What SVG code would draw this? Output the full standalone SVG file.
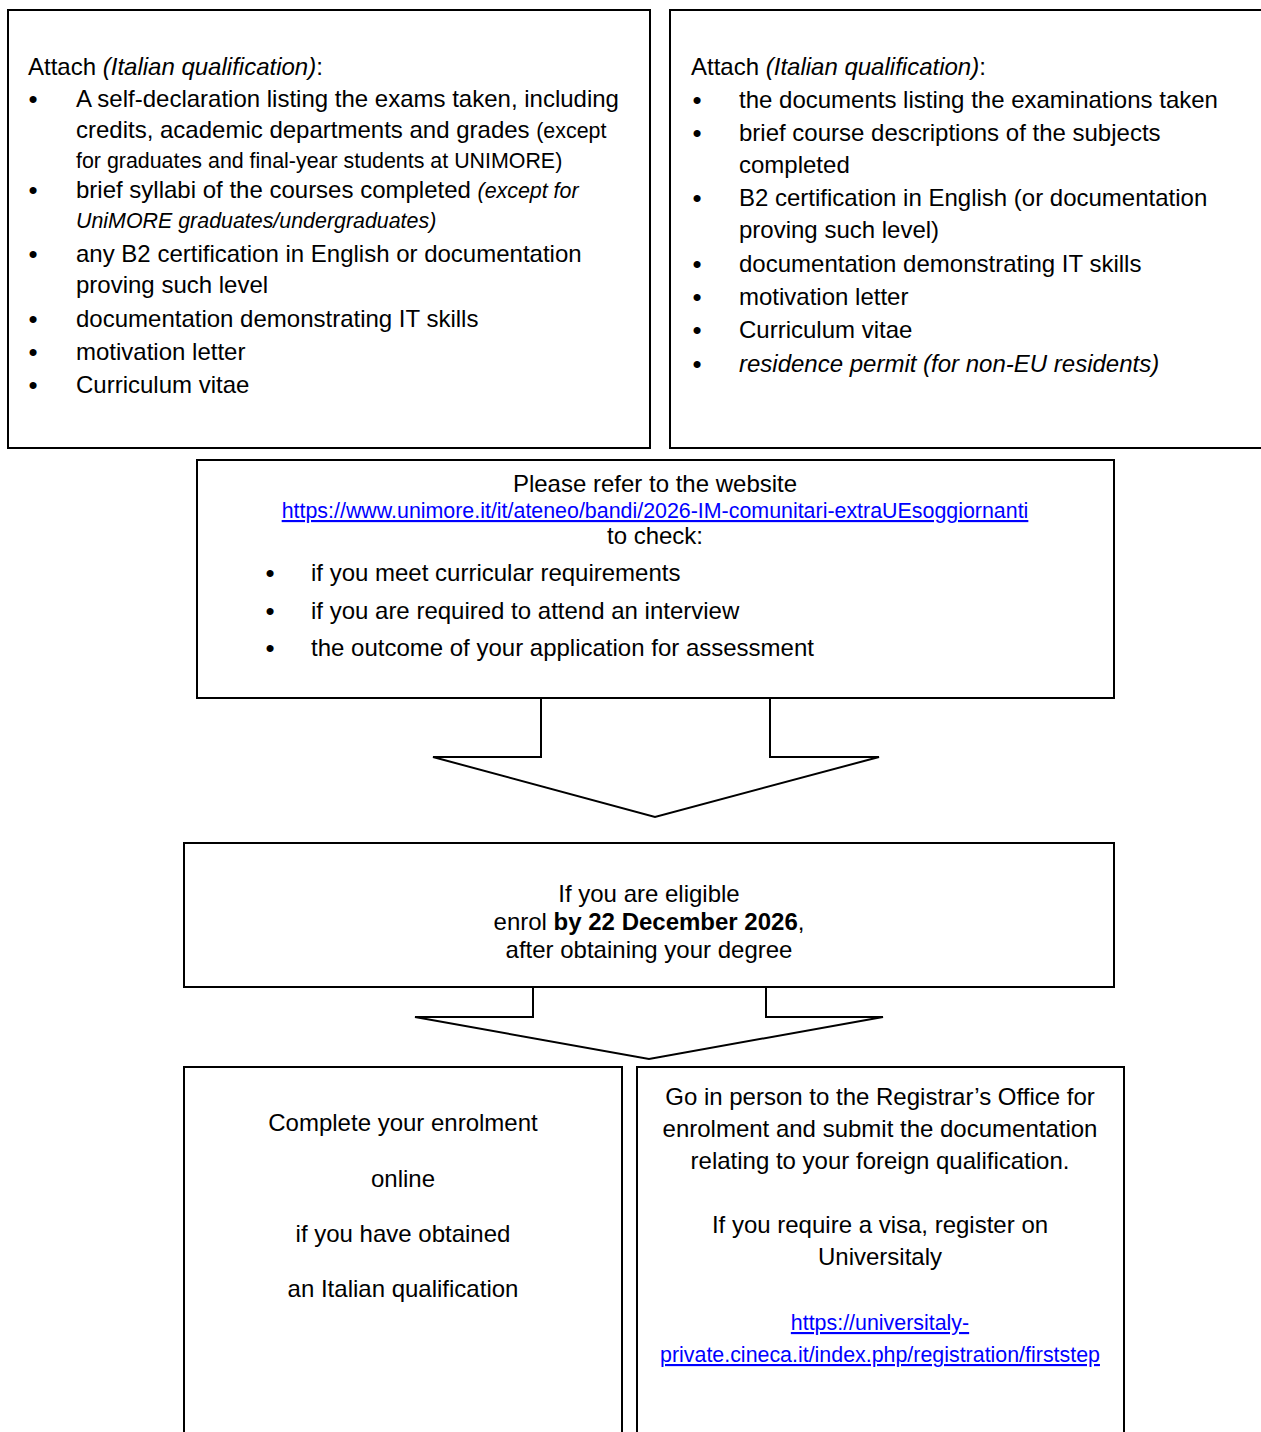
<svg xmlns="http://www.w3.org/2000/svg" width="1261" height="1432" viewBox="0 0 1261 1432">
<style>
.box{fill:#fff;stroke:#000;stroke-width:2}
.arr{fill:#fff;stroke:#000;stroke-width:2;stroke-linejoin:miter}
text{font-family:"Liberation Sans",Arial,sans-serif;font-size:24px;fill:#000}
.s{font-size:21.4px}
.i{font-style:italic}
.b{font-weight:bold}
.c{text-anchor:middle}
.bu{font-size:26px}
.lk{fill:#0000ff;text-decoration:underline}
.lks{font-size:21.4px}
</style>
<rect width="1261" height="1432" fill="#fff"/>
<g id="connectors">
<polyline class="arr" points="541,698 541,757 433,757 655,817 879,757 770,757 770,698"/>
<polyline class="arr" points="533,987 533,1017 415,1017 649,1059 883,1017 766,1017 766,987"/>
</g>
<g id="italian-docs">
<rect class="box" x="8" y="10" width="642" height="438"/>
<text x="28" y="75">Attach <tspan class="i">(Italian qualification)</tspan>:</text>
<text class="c bu" x="33" y="108">•</text>
<text x="76" y="107">A self-declaration listing the exams taken, including</text>
<text x="76" y="138">credits, academic departments and grades <tspan class="s">(except</tspan></text>
<text class="s" x="76" y="168">for graduates and final-year students at UNIMORE)</text>
<text class="c bu" x="33" y="199">•</text>
<text x="76" y="198">brief syllabi of the courses completed <tspan class="s i">(except for</tspan></text>
<text class="s i" x="76" y="228">UniMORE graduates/undergraduates)</text>
<text class="c bu" x="33" y="263">•</text>
<text x="76" y="262">any B2 certification in English or documentation</text>
<text x="76" y="293">proving such level</text>
<text class="c bu" x="33" y="328">•</text>
<text x="76" y="327">documentation demonstrating IT skills</text>
<text class="c bu" x="33" y="361">•</text>
<text x="76" y="360">motivation letter</text>
<text class="c bu" x="33" y="394">•</text>
<text x="76" y="393">Curriculum vitae</text>
</g>
<g id="foreign-docs">
<rect class="box" x="670" y="10" width="600" height="438"/>
<text x="691" y="75">Attach <tspan class="i">(Italian qualification)</tspan>:</text>
<text class="c bu" x="697" y="109">•</text>
<text x="739" y="108">the documents listing the examinations taken</text>
<text class="c bu" x="697" y="142">•</text>
<text x="739" y="141">brief course descriptions of the subjects</text>
<text x="739" y="173">completed</text>
<text class="c bu" x="697" y="207">•</text>
<text x="739" y="206">B2 certification in English (or documentation</text>
<text x="739" y="238">proving such level)</text>
<text class="c bu" x="697" y="273">•</text>
<text x="739" y="272">documentation demonstrating IT skills</text>
<text class="c bu" x="697" y="306">•</text>
<text x="739" y="305">motivation letter</text>
<text class="c bu" x="697" y="339">•</text>
<text x="739" y="338">Curriculum vitae</text>
<text class="c bu" x="697" y="373">•</text>
<text class="i" x="739" y="372">residence permit (for non-EU residents)</text>
</g>
<g id="check-website">
<rect class="box" x="197" y="460" width="917" height="238"/>
<text class="c" x="655" y="492">Please refer to the website</text>
<text class="c lk lks" x="655" y="518">https://www.unimore.it/it/ateneo/bandi/2026-IM-comunitari-extraUEsoggiornanti</text>
<text class="c" x="655" y="544">to check:</text>
<text class="c bu" x="270" y="582">•</text>
<text x="311" y="581">if you meet curricular requirements</text>
<text class="c bu" x="270" y="620">•</text>
<text x="311" y="619">if you are required to attend an interview</text>
<text class="c bu" x="270" y="657">•</text>
<text x="311" y="656">the outcome of your application for assessment</text>
</g>
<g id="enrol">
<rect class="box" x="184" y="843" width="930" height="144"/>
<text class="c" x="649" y="902">If you are eligible</text>
<text class="c" x="649" y="930">enrol <tspan class="b">by 22 December 2026</tspan>,</text>
<text class="c" x="649" y="958">after obtaining your degree</text>
</g>
<g id="online">
<rect class="box" x="184" y="1067" width="438" height="400"/>
<text class="c" x="403" y="1131">Complete your enrolment</text>
<text class="c" x="403" y="1187">online</text>
<text class="c" x="403" y="1242">if you have obtained</text>
<text class="c" x="403" y="1297">an Italian qualification</text>
</g>
<g id="in-person">
<rect class="box" x="637" y="1067" width="487" height="400"/>
<text class="c" x="880" y="1105">Go in person to the Registrar’s Office for</text>
<text class="c" x="880" y="1137">enrolment and submit the documentation</text>
<text class="c" x="880" y="1169">relating to your foreign qualification.</text>
<text class="c" x="880" y="1233">If you require a visa, register on</text>
<text class="c" x="880" y="1265">Universitaly</text>
<text class="c lk lks" x="880" y="1330">https://universitaly-</text>
<text class="c lk lks" x="880" y="1362">private.cineca.it/index.php/registration/firststep</text>
</g>
</svg>
